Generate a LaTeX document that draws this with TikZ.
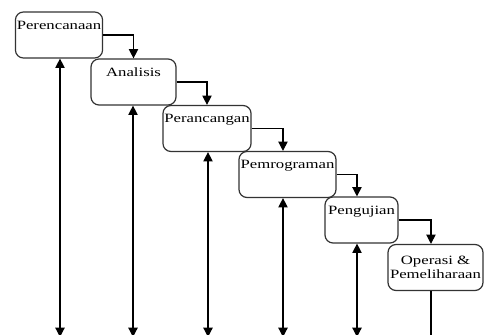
\documentclass[tikz,border=0pt]{standalone}
\usepackage{fontspec}
\newfontfamily\boxfont[FakeStretch=1.32]{Liberation Serif}
\usetikzlibrary{arrows.meta}
\tikzset{
  fase/.style={draw=black!80, line width=0.9pt, rounded corners=6pt,
    minimum height=34.5pt, inner sep=1pt, align=center,
    font=\boxfont\fontsize{9.5}{10}\selectfont},
  alur/.style={line width=0.9pt, -{Triangle[length=7pt,width=7pt]}},
  balik/.style={line width=0.9pt, {Triangle[length=7pt,width=7pt]}-{Triangle[length=7pt,width=7pt]}},
}

\begin{document}
\begin{tikzpicture}[x=0.75pt,y=-0.75pt]
   \useasboundingbox (0,0) rectangle (485,335);
   % tahapan
   \node[fase,minimum width=64.5pt]  (b1) at (59,35)      {Perencanaan\\[2pt]\strut};
   \node[fase,minimum width=63.75pt] (b2) at (133.5,82)   {Analisis\\[2pt]\strut};
   \node[fase,minimum width=64.5pt]  (b3) at (207,128.5)  {Perancangan\\[2pt]\strut};
   \node[fase,minimum width=72.75pt] (b4) at (287.5,174.5) {Pemrograman\\[2pt]\strut};
   \node[fase,minimum width=54.75pt] (b5) at (361.5,220)  {Pengujian\\[2pt]\strut};
   \node[fase,minimum width=71.25pt] (b6) at (435.5,267.5) {Operasi \&\\Pemeliharaan};
   % alur ke bawah
   \draw[alur] (b1.east) -| (b2.north);
   \draw[alur] (b2.east) -| (b3.north);
   \draw[alur] (b3.east) -| ([xshift=-3.4pt]b4.north);
   \draw[alur] (b4.east) -| ([xshift=-3.4pt]b5.north);
   \draw[alur] (b5.east) -| ([xshift=-3.4pt]b6.north);
   % umpan balik
   \foreach \i/\x in {1/60,2/133,3/208,4/283,5/357} {
      \coordinate (e\i) at (\x,337);
      \draw[balik] (e\i) -- (e\i |- b\i.south);
   }
   \coordinate (e6) at (431,337);
   \draw[line width=0.9pt] (e6 |- b6.south) -- (e6);
\end{tikzpicture}
\end{document}
